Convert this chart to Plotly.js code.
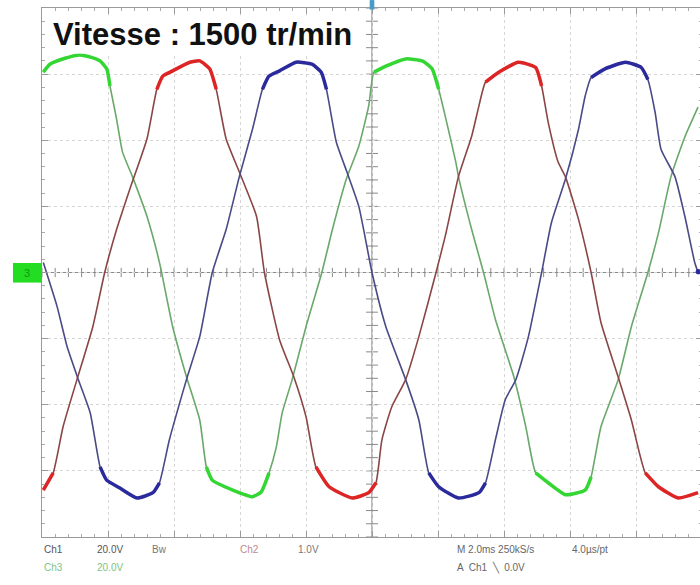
<!DOCTYPE html>
<html><head><meta charset="utf-8">
<script src="https://cdn.plot.ly/plotly-3.0.1.min.js"></script>
<style>html,body{margin:0;padding:0;overflow:hidden;background:#fff}#chart{width:704px;height:585px}</style>
</head><body><div id="chart"></div><script>
// time in ms (2 ms/div), voltage in V (20 V/div)
const greenT = [0.04,0.24,0.70,1.14,1.52,1.76,1.96,2.06,2.26,2.44,2.74,3.18,3.56,3.96,4.38,4.78,4.98,5.16,5.78,6.38,6.64,6.88,7.10,7.28,7.58,8.00,8.48,8.80,9.22,9.60,9.90,10.06,10.42,11.02,11.52,11.82,12.02,12.24,12.54,12.62,13.02,13.38,13.74,14.30,14.66,14.96,15.34,15.86,16.46,16.64,16.94,17.46,17.86,18.36,18.68,19.06,19.48,19.88];
const greenV = [60.6,63,64.8,65.8,65,64,61.6,56.4,46.4,36.4,29,17,3,-16.4,-31.6,-44.6,-58.8,-62.8,-65.8,-67.8,-66.4,-60.6,-52.8,-42.4,-32.4,-16.4,0,13,28.2,38.2,50.4,60.6,62.4,64.6,64,61.6,55.4,46.4,33.4,29,13,0,-14.2,-31.6,-46.6,-60.6,-63.6,-67.2,-65.8,-61.8,-46.6,-32.4,-16.4,0,12,29,41,50];
const redT = [0.04,0.34,0.64,1.06,1.54,1.90,2.26,2.66,3.18,3.48,3.66,3.96,4.48,4.78,5.08,5.28,5.58,5.98,6.50,6.74,7.20,7.64,8.00,8.30,8.70,9.40,9.90,10.12,10.30,10.60,11.02,11.42,11.94,12.22,12.62,13.02,13.24,13.44,13.84,14.44,14.96,15.14,15.34,15.64,15.86,16.26,16.64,16.94,17.46,17.86,18.28,18.68,19.28,19.88];
const redV = [-65.8,-60.6,-46.6,-32.4,-16.4,0,13,25.2,40.4,55.4,59.4,61,63.6,64,61.6,55.4,40.4,30.4,17,0,-20.4,-31.8,-43.6,-58.8,-64.8,-68.2,-66.6,-63.6,-50.6,-40.6,-32.4,-19.4,0,11,29,41.2,50.4,57.6,60.6,63.6,62,56.4,45.4,33.4,29,16,0,-15.2,-31.6,-44.6,-60.6,-64.8,-68.2,-66.6];
const blueT = [0.04,0.46,0.76,1.08,1.46,1.76,1.96,2.36,2.88,3.36,3.56,3.86,4.26,4.42,4.78,5.16,5.58,5.98,6.38,6.68,6.88,7.20,7.70,8.18,8.46,8.62,8.92,9.24,9.60,10.00,10.42,11.02,11.42,11.72,12.02,12.62,13.24,13.44,13.74,14.04,14.36,14.74,15.14,15.44,15.86,16.26,16.46,16.64,17.06,17.68,18.16,18.36,18.58,18.76,19.18,19.48,19.78,19.88];
const blueV = [3,-10.4,-22.4,-31.8,-42.4,-58.8,-62.8,-65.2,-68.2,-66.6,-63.6,-50.6,-36.4,-31,-19.4,0,13,29,43.4,55.4,59.4,61,63.6,63,60.6,55.4,39.4,30.4,20,0,-16.4,-32.4,-44.6,-60.6,-64.8,-68.2,-66.6,-63.6,-50.6,-38.4,-32.4,-19.4,0,15.2,28.2,43.4,53.4,59,61.6,63.6,62,58.4,48.4,37.2,29,17,3,0];

const titleText = 'Vitesse : 1500 tr/min';
const infoLine1 = ['Ch1', '20.0V', 'Bw', 'Ch2', '1.0V', 'M 2.0ms 250kS/s', '4.0µs/pt'];
const infoLine2 = ['Ch3', '20.0V', 'A  Ch1  \u2572  0.0V'];

const series = [
  {t: greenT, v: greenV, slope: '#6aa86a', peak: '#33d633'},
  {t: redT, v: redV, slope: '#8a4646', peak: '#dd2525'},
  {t: blueT, v: blueV, slope: '#4a4a86', peak: '#2a2a9c'}
];
const traces = [];
series.forEach(s => {
  traces.push({x: s.t, y: s.v, mode: 'lines', line: {color: s.slope, width: 1.6, shape: 'spline', smoothing: 0.5}, hoverinfo: 'skip'});
});
series.forEach(s => {
  traces.push({x: s.t, y: s.v.map(v => Math.abs(v) >= 55 ? v : null), mode: 'lines', connectgaps: false,
    line: {color: s.peak, width: 3.5, shape: 'spline', smoothing: 0.5}, hoverinfo: 'skip'});
});

const shapes = [
  {type: 'line', xref: 'x', yref: 'y', x0: 0, x1: 20, y0: 0, y1: 0, line: {color: '#8a8a8a', width: 1.2}, layer: 'below'},
  {type: 'line', xref: 'x', yref: 'y', x0: 10, x1: 10, y0: -80, y1: 80, line: {color: '#8a8a8a', width: 1.2}, layer: 'below'}
];
for (let i = 0; i <= 50; i++) {
  const x = i * 0.4;
  shapes.push({type: 'line', xref: 'x', yref: 'y', x0: x, x1: x, y0: -1.4, y1: 1.4, line: {color: '#8a8a8a', width: 1}, layer: 'below'});
}
for (let i = 0; i <= 40; i++) {
  const y = -80 + i * 4;
  shapes.push({type: 'line', xref: 'x', yref: 'y', x0: 9.82, x1: 10.18, y0: y, y1: y, line: {color: '#8a8a8a', width: 1}, layer: 'below'});
}
// channel ground marker, trigger markers
shapes.push({type: 'rect', xref: 'paper', yref: 'paper', x0: -0.044, x1: 0, y0: 0.481, y1: 0.518, fillcolor: '#22dd22', line: {width: 0}});
shapes.push({type: 'rect', xref: 'paper', yref: 'paper', x0: 0.4965, x1: 0.5035, y0: 0.997, y1: 1.015, fillcolor: '#4a9cc8', line: {width: 0}});
shapes.push({type: 'circle', xref: 'paper', yref: 'paper', x0: 0.9905, x1: 0.9985, y0: 0.4965, y1: 0.5065, fillcolor: '#2a2a9c', line: {width: 0}});

const annotations = [
  {text: '<b>' + titleText + '</b>', xref: 'paper', yref: 'paper', x: 0.014, y: 0.95, xanchor: 'left', yanchor: 'middle',
   showarrow: false, bgcolor: '#ffffff', font: {family: 'Liberation Sans, Arial, sans-serif', size: 31, color: '#111'}, borderpad: 1},
  {text: '3', xref: 'paper', yref: 'paper', x: -0.022, y: 0.4995, xanchor: 'center', yanchor: 'middle', showarrow: false,
   font: {family: 'Liberation Sans, Arial, sans-serif', size: 11, color: '#119911'}}
];
const line1X = [0, 0.080, 0.163, 0.297, 0.385, 0.625, 0.80];
const line1C = ['#555', '#555', '#777', '#c08a8a', '#777', '#666', '#666'];
infoLine1.forEach((t, i) => annotations.push({text: t, xref: 'paper', yref: 'paper', x: line1X[i], y: -0.024, xanchor: 'left', yanchor: 'middle',
  showarrow: false, font: {family: 'Liberation Sans, Arial, sans-serif', size: 10, color: line1C[i]}}));
const line2X = [0, 0.080, 0.625];
const line2C = ['#7fc27f', '#7fc27f', '#666'];
infoLine2.forEach((t, i) => annotations.push({text: t, xref: 'paper', yref: 'paper', x: line2X[i], y: -0.058, xanchor: 'left', yanchor: 'middle',
  showarrow: false, font: {family: 'Liberation Sans, Arial, sans-serif', size: 10, color: line2C[i]}}));

const axisCommon = {showticklabels: false, zeroline: false, showgrid: true, gridcolor: '#d6d6d6', griddash: 'dot', gridwidth: 1,
  showline: true, linecolor: '#9a9a9a', linewidth: 1, mirror: 'allticks', ticks: 'inside', ticklen: 6, tickcolor: '#9a9a9a', fixedrange: true};
const layout = {
  width: 704, height: 585,
  margin: {l: 42, r: 2, t: 8, b: 48},
  paper_bgcolor: '#ffffff', plot_bgcolor: '#ffffff',
  showlegend: false,
  xaxis: Object.assign({}, axisCommon, {range: [0, 20], dtick: 2, tick0: 0, minor: {dtick: 0.4, ticks: 'inside', ticklen: 3, tickcolor: '#aaa', showgrid: false}}),
  yaxis: Object.assign({}, axisCommon, {range: [-80, 80], dtick: 20, tick0: 0, minor: {dtick: 4, ticks: 'inside', ticklen: 3, tickcolor: '#aaa', showgrid: false}}),
  shapes: shapes,
  annotations: annotations
};
Plotly.newPlot('chart', traces, layout, {displayModeBar: false, staticPlot: true});
</script></body></html>
